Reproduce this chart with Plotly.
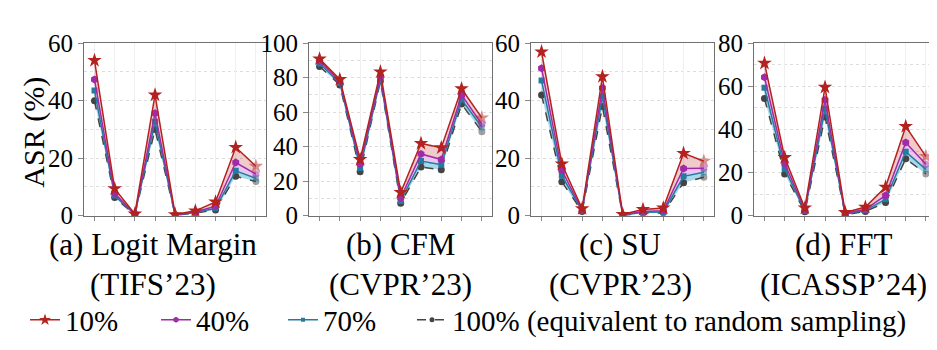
import plotly.graph_objects as go
from plotly.subplots import make_subplots

# nine evaluation points per panel (no tick labels in the original)
steps = list(range(9))

# (a) Logit Margin
logit_10 = [54.0, 9.4, 0.6, 42.0, 0.4, 1.7, 4.8, 23.8, 17.2]
logit_40 = [47.4, 7.8, 0.5, 35.6, 0.3, 1.3, 3.3, 18.5, 14.5]
logit_70 = [43.5, 7.0, 0.4, 32.7, 0.2, 1.1, 2.6, 15.6, 13.0]
logit_100 = [40.0, 6.3, 0.3, 30.0, 0.2, 0.9, 2.0, 13.7, 11.9]

# (b) CFM
cfm_10 = [90.9, 79.0, 32.6, 83.4, 13.5, 41.9, 39.4, 73.6, 56.7]
cfm_40 = [89.7, 78.0, 30.0, 80.7, 10.3, 35.8, 32.6, 70.0, 53.0]
cfm_70 = [88.2, 77.0, 27.6, 79.0, 8.6, 31.7, 29.6, 67.4, 51.3]
cfm_100 = [86.5, 75.8, 25.5, 78.0, 7.3, 28.2, 26.7, 64.7, 48.7]

# (c) SU
su_10 = [57.0, 18.0, 2.5, 48.4, 0.5, 2.2, 2.7, 21.7, 19.0]
su_40 = [51.3, 15.8, 2.0, 44.4, 0.3, 1.5, 1.7, 16.4, 16.5]
su_70 = [47.0, 13.9, 1.8, 41.5, 0.2, 1.2, 1.3, 13.7, 15.1]
su_100 = [42.0, 11.8, 1.5, 38.0, 0.1, 0.9, 1.0, 11.5, 13.4]

# (d) FFT
fft_10 = [70.7, 27.0, 3.6, 59.6, 1.5, 4.0, 13.3, 41.4, 27.5]
fft_40 = [64.2, 24.2, 2.8, 53.6, 1.0, 3.0, 9.4, 33.9, 23.9]
fft_70 = [59.3, 21.8, 2.3, 49.6, 0.7, 2.5, 7.6, 29.7, 21.5]
fft_100 = [54.3, 19.4, 1.8, 45.8, 0.5, 2.0, 6.1, 26.4, 19.4]

panels = [
    ("(a) Logit Margin", "(TIFS’23)", 60, [logit_10, logit_40, logit_70, logit_100]),
    ("(b) CFM", "(CVPR’23)", 100, [cfm_10, cfm_40, cfm_70, cfm_100]),
    ("(c) SU", "(CVPR’23)", 60, [su_10, su_40, su_70, su_100]),
    ("(d) FFT", "(ICASSP’24)", 80, [fft_10, fft_40, fft_70, fft_100]),
]

rates = ["10%", "40%", "70%", "100% (equivalent to random sampling)"]
line_colors = ["#b3221f", "#a12aa8", "#237ca0", "#444444"]
fill_colors = ["rgba(200,70,70,0.28)", "rgba(200,90,210,0.35)", "rgba(60,170,210,0.45)", None]
symbols = ["star", "hexagon", "square", "circle"]
sizes = [11, 8, 6, 7]
dashes = ["solid", "solid", "solid", "dash"]
legend_ids = ["legend", "legend2", "legend3", "legend4"]
legend_x = [17, 148, 275, 404]

FONT = "Times New Roman, Liberation Serif, serif"
W, H = 937, 350
x_px = [(76, 258), (301, 484), (523, 706), (746, 928)]
label_cx = [145, 392, 612, 835]

fig = make_subplots(rows=1, cols=4)

for c, (lab1, lab2, ymax, series) in enumerate(panels, start=1):
    # draw from 100% up so each band fills down to the series beneath it
    for k in [3, 2, 1, 0]:
        opac = [1] * 8 + [0.5]
        fig.add_trace(go.Scatter(
            x=steps, y=series[k], name=rates[k], mode="lines+markers",
            line=dict(color=line_colors[k], width=1.5, dash=dashes[k]),
            marker=dict(symbol=symbols[k], size=sizes[k], color=line_colors[k], opacity=opac),
            fill=None if k == 3 else "tonexty", fillcolor=fill_colors[k],
            showlegend=False,
        ), row=1, col=c)
    fig.update_yaxes(range=[0, ymax], dtick=20, row=1, col=c)
    x0, x1 = x_px[c - 1]
    fig.update_xaxes(domain=[x0 / W, x1 / W], row=1, col=c)
    for txt, yc in [(lab1, 242), (lab2, 285)]:
        fig.add_annotation(text=txt, xref="paper", yref="paper", x=label_cx[c - 1] / W, y=1 - yc / H,
                           xanchor="center", yanchor="middle", showarrow=False,
                           font=dict(family=FONT, size=31, color="black"))

# legend entries without the fill swatch
for k in range(4):
    fig.add_trace(go.Scatter(
        x=[None], y=[None], name=rates[k], mode="lines+markers",
        line=dict(color=line_colors[k], width=1.5, dash=dashes[k]),
        marker=dict(symbol=symbols[k], size=sizes[k] - 2, color=line_colors[k]),
        legend=legend_ids[k], showlegend=True,
    ), row=1, col=1)

fig.update_xaxes(range=[-0.52, 8.5], tickvals=steps, showticklabels=False, ticks="outside", ticklen=4,
                 tickcolor="#888888", showline=True, mirror=True, linecolor="#707070", linewidth=1.2,
                 showgrid=True, gridcolor="#f2eef2", zeroline=False)
fig.update_yaxes(domain=[1 - 211 / H, 1 - 24 / H], ticks="outside", ticklen=5, tickcolor="#888888",
                 tickfont=dict(family=FONT, size=25, color="black"), showline=True, mirror=True,
                 linecolor="#707070", linewidth=1.2,
                 showgrid=True, gridcolor="#dddddd", griddash="dot", zeroline=False,
                 minor=dict(dtick=10, showgrid=True, gridcolor="#dddddd", griddash="dot"))

fig.add_annotation(text="ASR (%)", xref="paper", yref="paper", x=26 / W, y=1 - 121 / H, textangle=-90,
                   xanchor="center", yanchor="middle", showarrow=False,
                   font=dict(family=FONT, size=30, color="black"))

legend_style = dict(orientation="h", xanchor="left", yanchor="middle", y=1 - 324 / H,
                    font=dict(family=FONT, size=29, color="black"), itemsizing="trace",
                    bgcolor="rgba(0,0,0,0)")
fig.update_layout(
    width=W, height=H, margin=dict(l=0, r=0, t=0, b=0),
    paper_bgcolor="white", plot_bgcolor="white",
    font=dict(family=FONT, color="black"),
    legend=dict(x=legend_x[0] / W, **legend_style),
    legend2=dict(x=legend_x[1] / W, **legend_style),
    legend3=dict(x=legend_x[2] / W, **legend_style),
    legend4=dict(x=legend_x[3] / W, **legend_style),
)

fig.write_html("out.html")
